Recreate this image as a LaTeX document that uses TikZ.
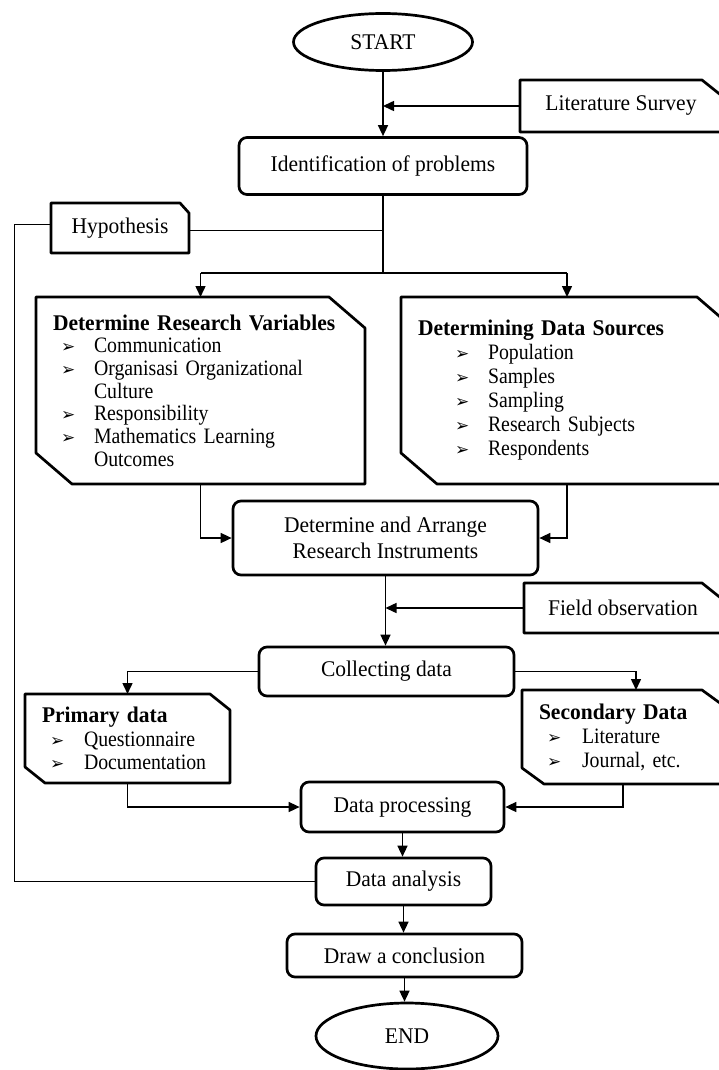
\documentclass[tikz,border=0pt]{standalone}
\usepackage{fontspec}
\setmainfont{Liberation Serif}[FakeStretch=0.96]
\newfontfamily\itfont{Liberation Serif}[FakeStretch=0.9]
\newfontfamily\dvfont{DejaVu Sans}
\usetikzlibrary{arrows.meta,shapes.geometric}
\newcommand\bul[3]{\hspace*{#1pt}\makebox[#2pt][l]{\fontsize{17}{17}\dvfont ➢}#3}
\newcommand\ttl[1]{{\fontsize{22.4}{22}\rmfamily\bfseries #1}}
\newcommand\cutNE[3]{\draw[boxline] (#1.north west) -- ([xshift=-#2]#1.north east) -- ([yshift=-#3]#1.north east) -- (#1.south east) -- (#1.south west) -- cycle;}
\newcommand\cutNESW[3]{\draw[boxline] (#1.north west) -- ([xshift=-#2]#1.north east) -- ([yshift=-#3]#1.north east) -- (#1.south east) -- ([xshift=#2]#1.south west) -- ([yshift=#3]#1.south west) -- cycle;}
\begin{document}
\begin{tikzpicture}[x=1pt,y=-1pt,
  mainfont/.style={font=\fontsize{22.4}{26}\selectfont},
  boxline/.style={line width=2.7pt, line join=round},
  rbox/.style={draw, line width=2.7pt, rounded corners=8pt, inner sep=0pt, mainfont, align=center},
  ell/.style={draw, ellipse, line width=2.7pt, inner sep=0pt, mainfont},
  cbox/.style={draw=none, inner sep=0pt, outer sep=0pt, mainfont},
  listbox/.style={cbox, inner xsep=17pt, align=left},
  conn/.style={line width=1.5pt},
  arr/.style={conn, -{Triangle[length=11pt,width=10pt]}},
  thinline/.style={line width=0.9pt}]
\useasboundingbox (0,0) rectangle (718,1070);
\fill[white] (0,0) rectangle (718,1070);

% nodes
\node[ell, minimum width=179pt, minimum height=57pt] (start) at (383,42) {START};
\node[rbox, minimum width=288pt, minimum height=57pt] (ident) at (383,166) {Identification of problems};
\node[cbox, minimum width=202pt, minimum height=52pt] (lit) at (621,106) {Literature Survey};
\cutNE{lit}{20pt}{16pt}
\node[cbox, minimum width=138pt, minimum height=50pt] (hyp) at (120,228) {Hypothesis};
\cutNE{hyp}{9pt}{10pt}

\node[listbox, minimum height=187pt, text width=295pt,
      font=\fontsize{22}{22.7}\itfont] (var) at (200.5,390.5)
  {\ttl{Determine Research Variables}\\
   \bul{8}{33}{Communication}\\
   \bul{8}{33}{Organisasi Organizational}\\
   \hspace*{41pt}Culture\\
   \bul{8}{33}{Responsibility}\\
   \bul{8}{33}{Mathematics Learning}\\
   \hspace*{41pt}Outcomes};
\cutNESW{var}{36pt}{31pt}

\node[listbox, minimum height=187pt, text width=298pt,
      font=\fontsize{22}{24}\itfont] (src) at (567,390.5)
  {\ttl{Determining Data Sources}\\
   \bul{37}{33}{Population}\\
   \bul{37}{33}{Samples}\\
   \bul{37}{33}{Sampling}\\
   \bul{37}{33}{Research Subjects}\\
   \bul{37}{33}{Respondents}};
\cutNESW{src}{36pt}{31pt}

\node[rbox, minimum width=305pt, minimum height=74pt] (instr) at (385.5,538)
  {Determine and Arrange\\Research Instruments};
\node[cbox, minimum width=198pt, minimum height=50pt] (fld) at (623,608) {Field observation};
\cutNE{fld}{20pt}{16pt}
\node[rbox, minimum width=255pt, minimum height=49pt] (coll) at (386.5,671.5) {Collecting data};

\node[listbox, minimum height=89pt, text width=171pt,
      font=\fontsize{22}{23.5}\itfont] (prim) at (127.5,738.5)
  {\ttl{Primary data}\\
   \bul{8}{34}{Questionnaire}\\
   \bul{8}{34}{Documentation}};
\cutNESW{prim}{20pt}{16pt}

\node[listbox, minimum height=94pt, text width=168pt,
      font=\fontsize{22}{24}\itfont] (sec) at (623,737)
  {\ttl{Secondary Data}\\
   \bul{8}{35}{Literature}\\
   \bul{8}{35}{Journal, etc.}};
\cutNESW{sec}{22pt}{16pt}

\node[rbox, minimum width=203pt, minimum height=50pt] (proc) at (402.5,807) {Data processing};
\node[rbox, minimum width=175pt, minimum height=47pt] (ana) at (403.5,881.5) {Data analysis};
\node[rbox, minimum width=235pt, minimum height=43pt] (concl) at (404.5,955.5) {Draw a conclusion};
\node[ell, minimum width=182pt, minimum height=66pt] (stop) at (407,1036) {END};

% connectors
\draw[arr] (start) -- (ident);
\draw[arr] (lit.west) -- (lit.west -| start.south);
\coordinate (br) at (ident.south |- 0,273);
\draw[conn] (ident.south) -- (br);
\draw[conn] (br -| var.north) -- (br -| src.north);
\draw[arr] (br -| var.north) -- (var.north);
\draw[arr] (br -| src.north) -- (src.north);
\coordinate (lft) at (14,0);
\draw[thinline] ([yshift=-2pt]hyp.east) -- ([yshift=-2pt]hyp.east -| ident.south);
\draw[thinline] ([yshift=4pt]hyp.west) -- ([yshift=4pt]hyp.west -| lft) -- (lft |- ana.west) -- (ana.west);
\draw[arr] (var.south) |- (instr.west);
\draw[arr] (src.south) |- (instr.east);
\draw[arr] (instr.south) -- (instr.south |- coll.north);
\draw[arr] (fld.west) -- (fld.west -| instr.south);
\draw[arr] (coll.west) -| (prim.north);
\draw[arr] (coll.east) -| ([xshift=13pt]sec.north);
\draw[arr] (prim.south) |- (proc.west);
\draw[arr] (sec.south) |- (proc.east);
\draw[arr] (proc.south) -- (proc.south |- ana.north);
\draw[arr] (ana.south) -- (ana.south |- concl.north);
\draw[arr] (concl.south) -- (concl.south |- stop.north);
\end{tikzpicture}
\end{document}
